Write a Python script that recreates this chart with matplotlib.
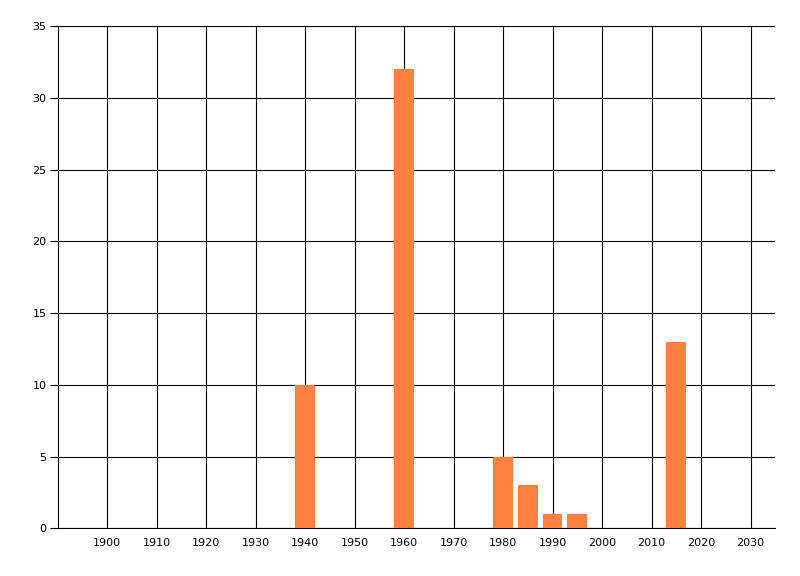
import matplotlib
matplotlib.use("Agg")
import matplotlib.pyplot as plt

# data
years = [1940, 1960, 1980, 1985, 1990, 1995, 2015]
counts = [10, 32, 5, 3, 1, 1, 13]
x_ticks = list(range(1900, 2031, 10))
y_ticks = list(range(0, 36, 5))

bar_color = "#FF8040"

fig = plt.figure(figsize=(8, 5.76), dpi=100)
ax = fig.add_axes([0.0721, 0.0828, 0.8970, 0.8721])

ax.bar(years, counts, width=4, color=bar_color, zorder=3)

ax.set_xlim(1890, 2035)
ax.set_ylim(0, 35)
ax.set_xticks(x_ticks)
ax.set_yticks(y_ticks)
ax.tick_params(axis="x", length=0, pad=7, labelsize=8)
ax.tick_params(axis="y", length=6, width=0.8, pad=2, labelsize=8)

ax.grid(True, color="black", linewidth=0.8, zorder=0)
ax.set_axisbelow(True)

for side in ["top", "right"]:
    ax.spines[side].set_visible(False)
ax.spines["left"].set_linewidth(0.8)
ax.spines["bottom"].set_linewidth(0.8)

fig.savefig("out.png", dpi=100)
